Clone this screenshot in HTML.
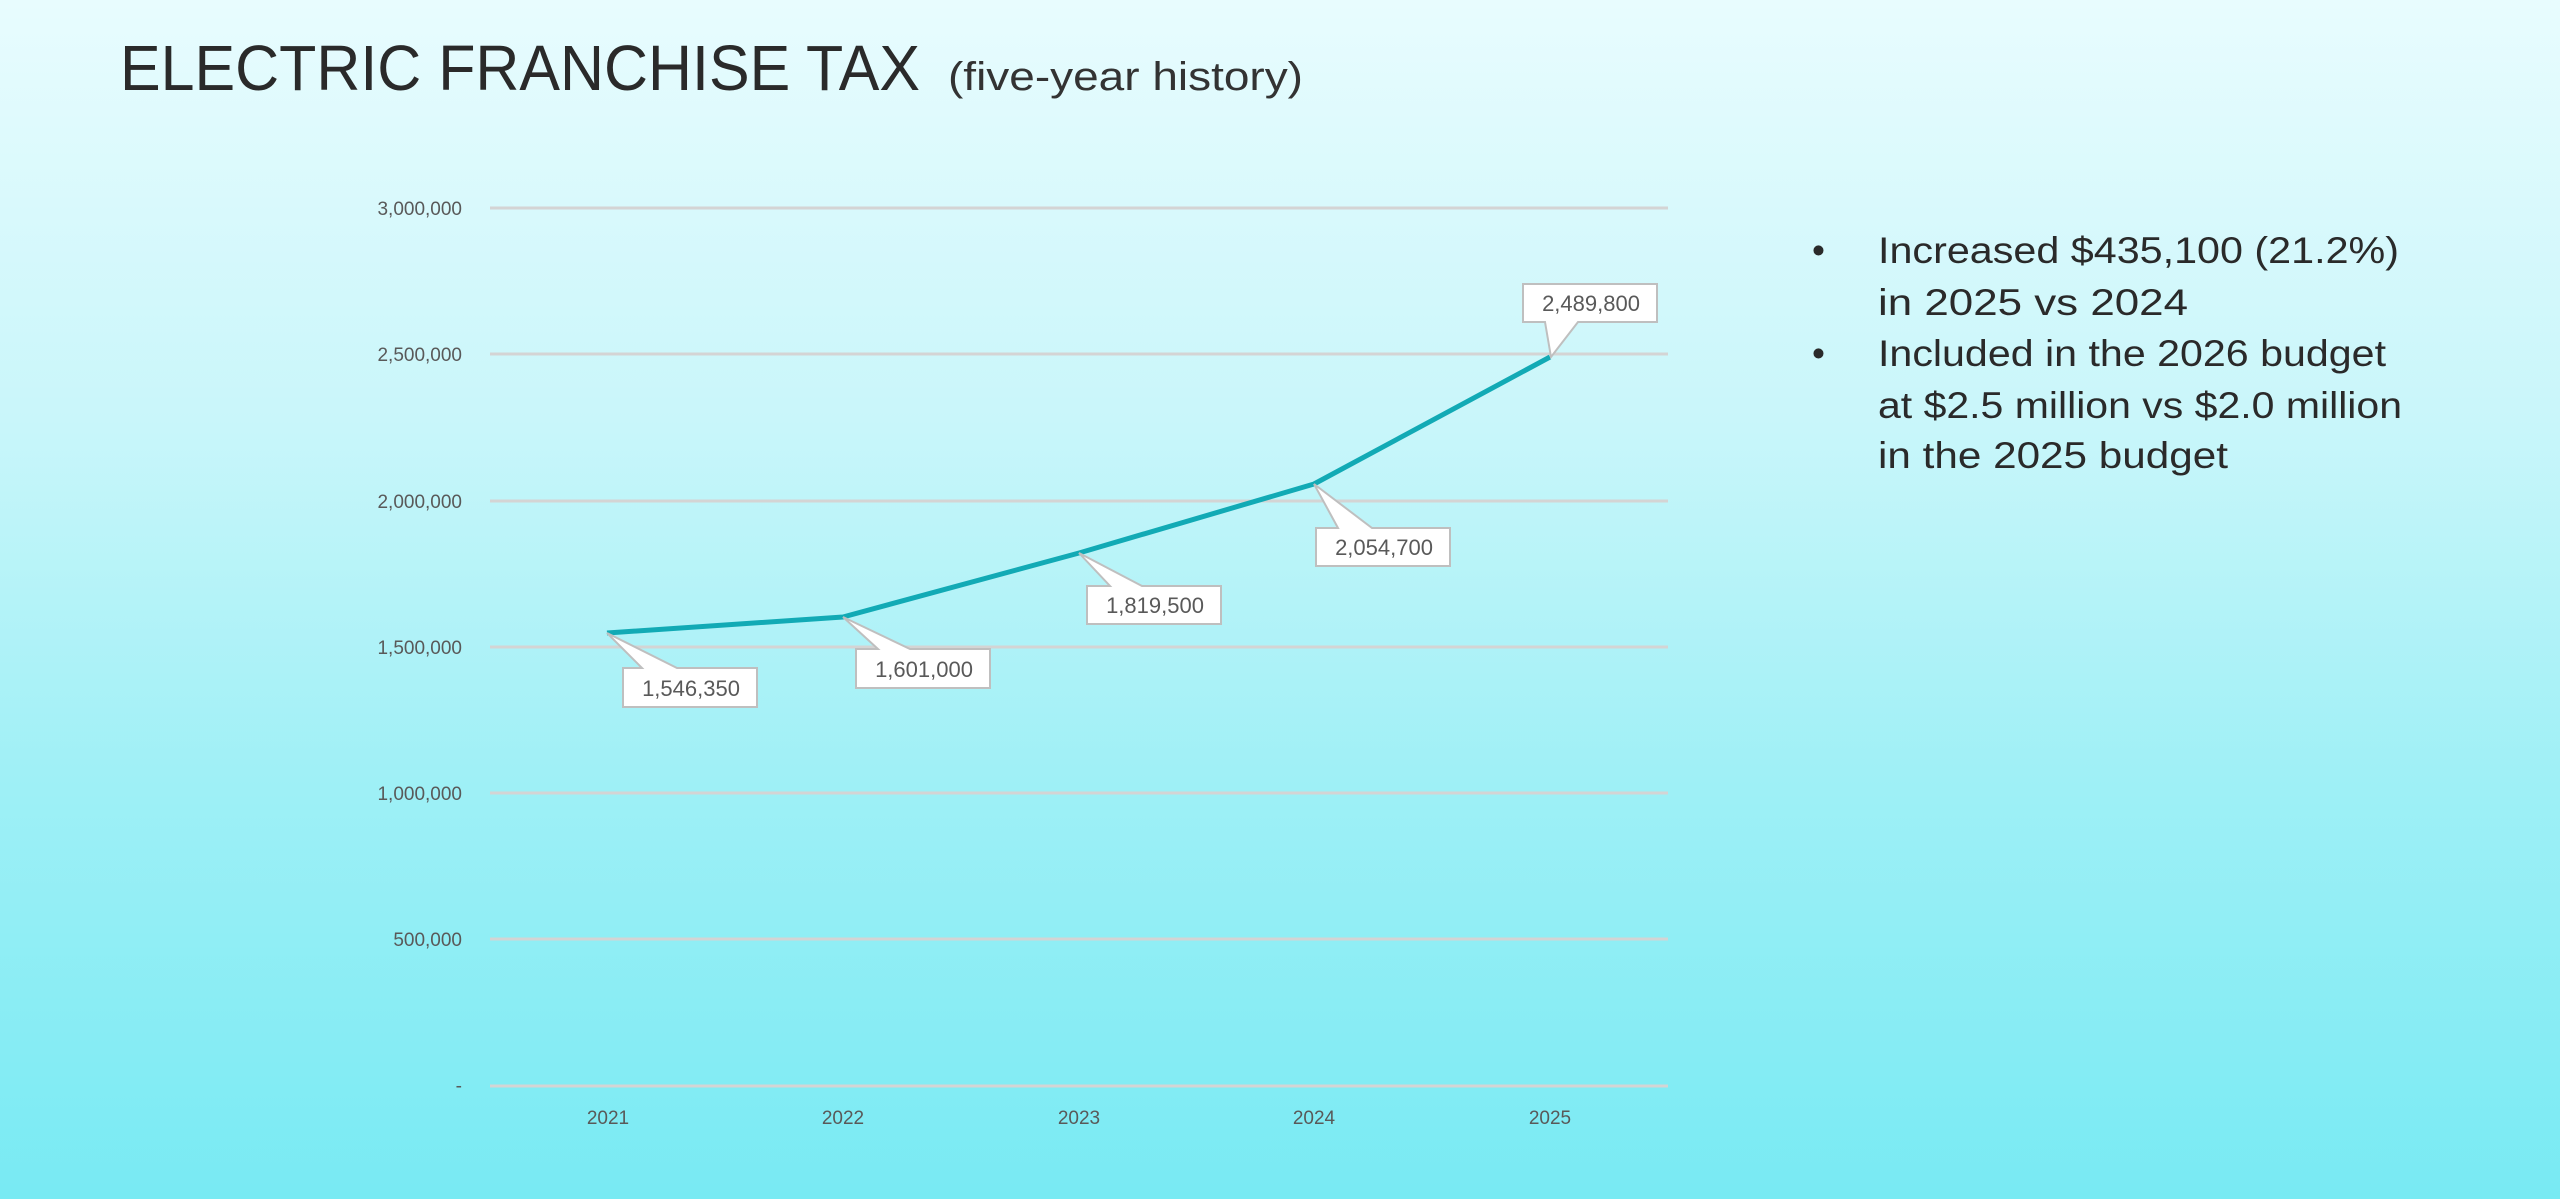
<!DOCTYPE html>
<html><head><meta charset="utf-8"><style>
html,body{margin:0;padding:0}
body{width:2560px;height:1199px;overflow:hidden;background:linear-gradient(#e8fcfe 0%,#c9f6fa 35%,#9ff0f6 65%,#78eaf3 100%);}
svg{position:absolute;left:0;top:0}
</style></head><body>
<svg width="2560" height="1199" xmlns="http://www.w3.org/2000/svg">
<text x="120" y="90" font-family="Liberation Sans, sans-serif" font-size="64" fill="#2a2a2a" textLength="800" lengthAdjust="spacingAndGlyphs">ELECTRIC FRANCHISE TAX</text>
<text x="948" y="90" font-family="Liberation Sans, sans-serif" font-size="40" fill="#333" textLength="355" lengthAdjust="spacingAndGlyphs">(five-year history)</text>
<g stroke="#d4d4d4" stroke-width="3">
<line x1="490" x2="1668" y1="208" y2="208"/>
<line x1="490" x2="1668" y1="354" y2="354"/>
<line x1="490" x2="1668" y1="501" y2="501"/>
<line x1="490" x2="1668" y1="647" y2="647"/>
<line x1="490" x2="1668" y1="793" y2="793"/>
<line x1="490" x2="1668" y1="939" y2="939"/>
<line x1="490" x2="1668" y1="1086" y2="1086"/>
</g>
<g font-family="Liberation Sans, sans-serif" font-size="19" fill="#595959" text-anchor="end">
<text x="462" y="215">3,000,000</text>
<text x="462" y="361">2,500,000</text>
<text x="462" y="508">2,000,000</text>
<text x="462" y="654">1,500,000</text>
<text x="462" y="800">1,000,000</text>
<text x="462" y="946">500,000</text>
<text x="462" y="1092">-</text>
</g>
<g font-family="Liberation Sans, sans-serif" font-size="19" fill="#595959" text-anchor="middle">
<text x="608" y="1124">2021</text>
<text x="843" y="1124">2022</text>
<text x="1079" y="1124">2023</text>
<text x="1314" y="1124">2024</text>
<text x="1550" y="1124">2025</text>
</g>
<polyline points="607,633 843,617 1079,553 1314,484 1550,357" fill="none" stroke="#12aab5" stroke-width="5" stroke-linejoin="round"/>
<g fill="#fff" stroke="#bfbfbf" stroke-width="2">
<path d="M623,668 L642,668 L607,633 L677,668 L757,668 L757,707 L623,707 Z"/>
<path d="M856,649 L878,649 L843,617 L910,649 L990,649 L990,688 L856,688 Z"/>
<path d="M1087,586 L1110,586 L1079,553 L1142,586 L1221,586 L1221,624 L1087,624 Z"/>
<path d="M1316,528 L1338,528 L1314,484 L1372,528 L1450,528 L1450,566 L1316,566 Z"/>
<path d="M1523,284 L1657,284 L1657,322 L1578,322 L1551,357 L1545,322 L1523,322 Z"/>
</g>
<g font-family="Liberation Sans, sans-serif" font-size="22" fill="#595959" text-anchor="middle">
<text x="691" y="696">1,546,350</text>
<text x="924" y="677">1,601,000</text>
<text x="1155" y="613">1,819,500</text>
<text x="1384" y="555">2,054,700</text>
<text x="1591" y="311">2,489,800</text>
</g>
<g font-family="Liberation Sans, sans-serif" font-size="37" fill="#2a2a2a">
<text x="1812" y="263">•</text>
<text x="1812" y="366">•</text>
<text x="1878" y="263" textLength="521" lengthAdjust="spacingAndGlyphs">Increased $435,100 (21.2%)</text>
<text x="1878" y="315" textLength="310" lengthAdjust="spacingAndGlyphs">in 2025 vs 2024</text>
<text x="1878" y="366" textLength="508" lengthAdjust="spacingAndGlyphs">Included in the 2026 budget</text>
<text x="1878" y="418" textLength="524" lengthAdjust="spacingAndGlyphs">at $2.5 million vs $2.0 million</text>
<text x="1878" y="468" textLength="350" lengthAdjust="spacingAndGlyphs">in the 2025 budget</text>
</g>
</svg>
</body></html>
